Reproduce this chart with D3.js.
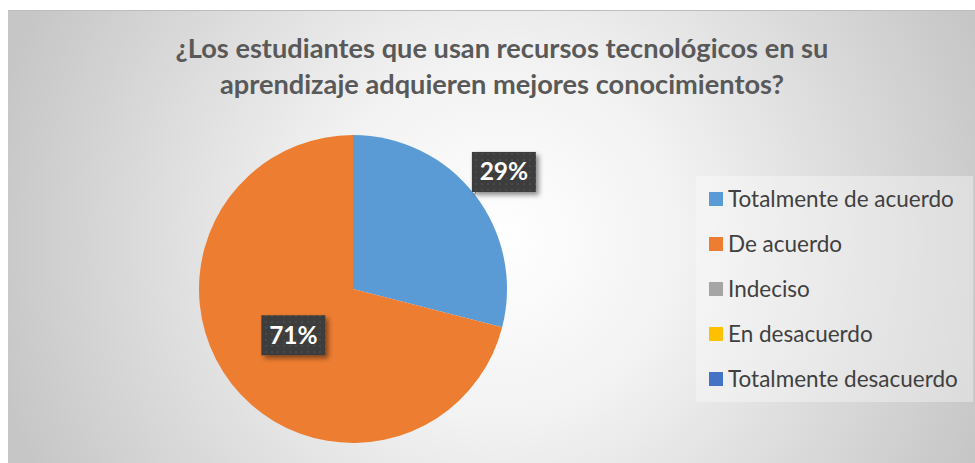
<html>
  <head>
    <meta charset="utf-8">
    <style>
      body {
        margin: 0;
        background: #fff;
      }
      text {
        font-family: Lato, "Open Sans", sans-serif;
      }
    </style>
  </head>
  <body>
    <script src="https://d3js.org/d3.v7.min.js"></script>
    <script>
      var width = 975, height = 463;

      var titleLines = ["¿Los estudiantes que usan recursos tecnológicos en su", "aprendizaje adquieren mejores conocimientos?"];
      var categories = ["Totalmente de acuerdo", "De acuerdo", "Indeciso", "En desacuerdo", "Totalmente desacuerdo"];
      var values = [29, 71, 0, 0, 0];
      var colors = ["#5b9bd5", "#ed7d31", "#a5a5a5", "#ffc000", "#4472c4"];
      // label distance from centre, as a share of the radius (outside for the small slice)
      var labelRadius = [1.24, 0.49, 0, 0, 0];

      var cx = 353, cy = 289, radius = 154;

      var svg = d3.select("body").append("svg")
          .attr("width", width)
          .attr("height", height);

      var defs = svg.append("defs");

      var bg = defs.append("radialGradient")
          .attr("id", "bg")
          .attr("gradientUnits", "userSpaceOnUse")
          .attr("cx", 500).attr("cy", 240).attr("r", 520);
      bg.append("stop").attr("offset", "0%").attr("stop-color", "#ffffff");
      bg.append("stop").attr("offset", "35%").attr("stop-color", "#f2f2f2");
      bg.append("stop").attr("offset", "100%").attr("stop-color", "#c6c6c6");

      var dots = defs.append("pattern")
          .attr("id", "dots")
          .attr("patternUnits", "userSpaceOnUse")
          .attr("width", 6).attr("height", 6);
      dots.append("rect").attr("width", 6).attr("height", 6).attr("fill", "#3c3c3c");
      dots.append("circle").attr("cx", 3).attr("cy", 3).attr("r", 1.1).attr("fill", "#4d4d4d");

      var shadow = defs.append("filter")
          .attr("id", "shadow")
          .attr("x", "-30%").attr("y", "-30%").attr("width", "170%").attr("height", "170%");
      shadow.append("feDropShadow")
          .attr("dx", 3).attr("dy", 3).attr("stdDeviation", 2.5)
          .attr("flood-color", "#000").attr("flood-opacity", 0.45);

      svg.append("rect")
          .attr("x", 8).attr("y", 10)
          .attr("width", width - 8).attr("height", height - 10)
          .attr("fill", "url(#bg)");
      svg.append("line")
          .attr("x1", 8).attr("x2", width)
          .attr("y1", 10.5).attr("y2", 10.5)
          .attr("stroke", "#bdbdbd");

      svg.append("g")
          .selectAll("text")
          .data(titleLines)
        .enter().append("text")
          .attr("x", 502)
          .attr("y", function(d, i){ return 58 + i * 36; })
          .attr("text-anchor", "middle")
          .attr("font-size", 27.2)
          .attr("font-weight", 700)
          .attr("fill", "#595959")
          .text(function(d){ return d; });

      var pie = d3.pie().sort(null).value(function(d){ return d; });
      var arcs = pie(values);
      var arc = d3.arc().innerRadius(0).outerRadius(radius);

      var g = svg.append("g").attr("transform", "translate(" + cx + "," + cy + ")");

      g.selectAll("path")
          .data(arcs)
        .enter().append("path")
          .attr("d", arc)
          .attr("fill", function(d, i){ return colors[i]; });

      var labels = g.selectAll(".label")
          .data(arcs.filter(function(d){ return d.value > 0; }))
        .enter().append("g")
          .attr("class", "label");

      labels.each(function(d){
        var sel = d3.select(this);
        var mid = (d.startAngle + d.endAngle) / 2;
        var f = labelRadius[d.index];
        var lx = Math.sin(mid) * radius * f, ly = -Math.cos(mid) * radius * f;
        var bw = 64, bh = 40;
        if (f > 1) {
          sel.append("line")
              .attr("x1", Math.sin(mid) * radius).attr("y1", -Math.cos(mid) * radius)
              .attr("x2", lx - bw / 2 + 4).attr("y2", ly + bh / 2)
              .attr("stroke", "#7f7f7f").attr("stroke-width", 1);
        }
        sel.append("rect")
            .attr("x", lx - bw / 2).attr("y", ly - bh / 2)
            .attr("width", bw).attr("height", bh)
            .attr("fill", "url(#dots)")
            .attr("filter", "url(#shadow)");
        sel.append("text")
            .attr("x", lx).attr("y", ly + 8.5)
            .attr("text-anchor", "middle")
            .attr("font-size", 24.5)
            .attr("font-weight", 700)
            .attr("fill", "#ffffff")
            .text(d.value + "%");
      });

      svg.append("rect")
          .attr("x", 696).attr("y", 176)
          .attr("width", 277).attr("height", 226)
          .attr("fill", "#ffffff").attr("fill-opacity", 0.35);

      var legend = svg.append("g")
          .selectAll("g")
          .data(categories)
        .enter().append("g")
          .attr("transform", function(d, i){ return "translate(709," + (199 + i * 45) + ")"; });

      legend.append("rect")
          .attr("x", 0).attr("y", -7)
          .attr("width", 14).attr("height", 14)
          .attr("fill", function(d, i){ return colors[i]; });

      legend.append("text")
          .attr("x", 19).attr("y", 8)
          .attr("font-size", 22.5)
          .attr("fill", "#404040")
          .text(function(d){ return d; });
    </script>
  </body>
</html>
